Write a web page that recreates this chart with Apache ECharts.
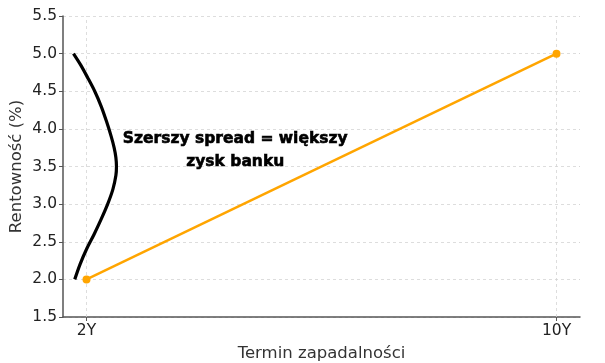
<!DOCTYPE html>
<html>
<head>
<meta charset="utf-8">
<script src="https://cdn.jsdelivr.net/npm/echarts@6/dist/echarts.min.js"></script>
<style>html,body{margin:0;padding:0;background:#fff}#c{width:605px;height:363px}</style>
</head>
<body>
<div id="c"></div>
<script>
const maturities = [2, 10];
const maturityLabels = ['2Y', '10Y'];
const yields = [2.0, 5.0];
// bracket curve (x in years, y in %)
const bracketX = [1.778, 1.90, 2.02, 2.14, 2.25, 2.34, 2.42, 2.47, 2.50, 2.51, 2.50, 2.45, 2.36, 2.25, 2.13, 2.00, 1.89, 1.80];
const bracketY = [5.0, 4.85, 4.68, 4.5, 4.3, 4.1, 3.9, 3.75, 3.62, 3.5, 3.38, 3.2, 3.0, 2.8, 2.6, 2.4, 2.2, 2.0];
const noteText = 'Szerszy spread = większy\nzysk banku';
const notePos = [4.54, 3.70];

const chart = echarts.init(document.getElementById('c'));
const font = 'DejaVu Sans';
chart.setOption({
  animation: false,
  grid: {left: 63, right: 25, top: 16, bottom: 46, containLabel: false, outerBoundsMode: 'none'},
  xAxis: {
    type: 'value', min: 1.6, max: 10.4,
    name: 'Termin zapadalności', nameLocation: 'middle', nameGap: 28, nameMoveOverlap: false,
    nameTextStyle: {fontFamily: font, fontSize: 16.5, color: '#333'},
    axisLine: {lineStyle: {color: '#555', width: 1.5}},
    axisTick: {show: true, customValues: maturities, length: 4, lineStyle: {color: '#555'}},
    axisLabel: {customValues: maturities, fontFamily: font, fontSize: 15.5, color: '#222', margin: 6,
      formatter: v => maturityLabels[maturities.indexOf(v)]},
    splitLine: {show: false}
  },
  yAxis: {
    type: 'value', min: 1.5, max: 5.5, interval: 0.5,
    name: 'Rentowność (%)', nameLocation: 'middle', nameGap: 38, nameMoveOverlap: false,
    nameTextStyle: {fontFamily: font, fontSize: 16.5, color: '#333'},
    axisLine: {show: true, lineStyle: {color: '#555', width: 1.5}},
    axisTick: {show: true, length: 4, lineStyle: {color: '#555'}},
    axisLabel: {fontFamily: font, fontSize: 15.5, color: '#222', margin: 6, formatter: v => v.toFixed(1)},
    splitLine: {show: true, lineStyle: {color: '#d5d5d5', type: [3, 3], width: 0.8}}
  },
  series: [
    {
      type: 'line',
      data: maturities.map((m, i) => [m, yields[i]]),
      color: '#FFA500',
      lineStyle: {width: 2.5, color: '#FFA500'},
      symbol: 'circle', symbolSize: 8,
      itemStyle: {color: '#FFA500'},
      z: 3,
      markLine: {
        silent: true, symbol: 'none', label: {show: false},
        lineStyle: {color: '#d5d5d5', type: [3, 3], width: 0.8},
        data: maturities.map(m => ({xAxis: m})),
        z: 1
      }
    },
    {
      type: 'line',
      data: bracketX.map((x, i) => [x, bracketY[i]]),
      smooth: 0.3,
      showSymbol: false,
      lineStyle: {width: 3.2, color: '#000'},
      z: 4
    },
    {
      type: 'scatter',
      data: [notePos],
      symbolSize: 1,
      silent: true,
      itemStyle: {color: 'rgba(0,0,0,0)'},
      label: {
        show: true, position: [0, 0], formatter: noteText,
        fontFamily: 'DejaVu Sans', fontWeight: 'bold', fontSize: 15.5,
        color: '#000', opacity: 1, textBorderColor: '#000', textBorderWidth: 0.6,
        align: 'center', verticalAlign: 'middle', lineHeight: 23
      },
      z: 5
    }
  ]
});
</script>
</body>
</html>
